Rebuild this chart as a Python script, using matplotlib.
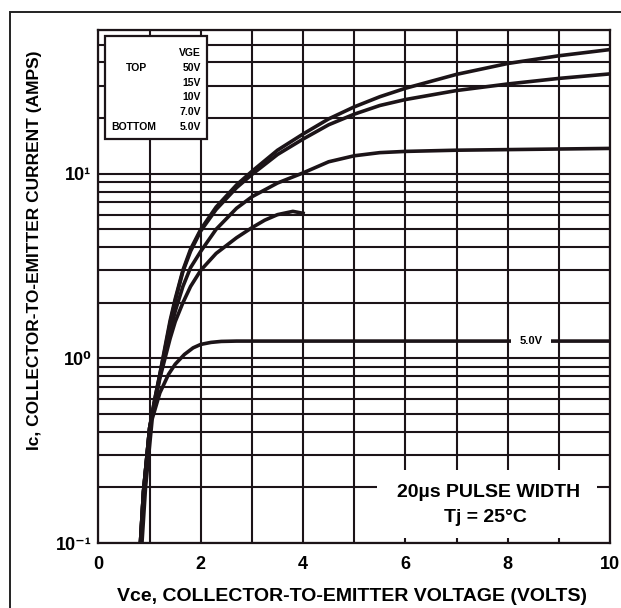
import matplotlib
matplotlib.use("Agg")
import matplotlib.pyplot as plt
from matplotlib.patches import Rectangle
from matplotlib.ticker import LogLocator, MultipleLocator, NullFormatter

plt.rcParams['font.family'] = ['Liberation Sans', 'DejaVu Sans']
plt.rcParams['font.weight'] = 'bold'

# values (Vce in volts, Ic in amps)
vce = [0.82, 0.88, 1.0, 1.1, 1.2, 1.3, 1.4, 1.5, 1.65, 1.8, 2.0, 2.3, 2.7, 3.0, 3.5,
       4.0, 4.5, 5, 5.5, 6, 7, 8, 9, 10]
ic_50v = [0.1, 0.19, 0.42, 0.6, 0.82, 1.15, 1.6, 2.1, 3.0, 3.9, 5.0, 6.6, 8.7, 10.3, 13.4,
          16.4, 19.8, 23, 26.1, 29, 34.5, 39.5, 43.5, 47]
ic_15v = [0.1, 0.19, 0.42, 0.6, 0.82, 1.12, 1.55, 2.05, 2.95, 3.8, 4.9, 6.4, 8.4, 9.9, 12.7,
          15.4, 18.4, 21, 23.4, 25.2, 28.2, 30.6, 32.8, 34.7]
ic_10v = [0.1, 0.19, 0.42, 0.58, 0.8, 1.05, 1.4, 1.8, 2.45, 3.1, 3.8, 5.0, 6.5, 7.5, 8.9,
          10.1, 11.6, 12.5, 13.0, 13.2, 13.4, 13.5, 13.6, 13.7]
vce_7v = [0.82, 0.88, 1.0, 1.1, 1.2, 1.3, 1.4, 1.5, 1.65, 1.8, 2.0, 2.3, 2.7, 3.0, 3.25,
          3.5, 3.8, 4.0]
ic_7v = [0.1, 0.19, 0.42, 0.57, 0.78, 1.0, 1.28, 1.58, 2.0, 2.45, 3.0, 3.7, 4.5, 5.1, 5.6,
         6.0, 6.25, 6.1]
vce_5v = [0.85, 0.92, 1.05, 1.2, 1.37, 1.5, 1.68, 1.85, 2.0, 2.2, 2.4, 2.7, 3, 5, 10]
ic_5v = [0.1, 0.2, 0.47, 0.65, 0.82, 0.93, 1.05, 1.14, 1.19, 1.22, 1.235, 1.24, 1.24, 1.24, 1.24]

legend_rows = ["VGE", "50V", "15V", "10V", "7.0V", "5.0V"]
x_ticks = [0, 2, 4, 6, 8, 10]
y_ticks = [0.1, 1, 10]
y_ticklabels = ["10\u207b\u00b9", "10\u2070", "10\u00b9"]

fig = plt.figure(figsize=(6.21, 6.08), dpi=100)
ax = fig.add_axes([0.1586, 0.1069, 0.8237, 0.8438])

# page frame from the scan
fig.patches.append(Rectangle((0.016, -0.1), 1.2, 1.08, transform=fig.transFigure,
                             fill=False, edgecolor='#222222', lw=1.4))

ink = '#1c1418'
for xs, ys in [(vce, ic_50v), (vce, ic_15v), (vce, ic_10v), (vce_7v, ic_7v), (vce_5v, ic_5v)]:
    ax.plot(xs, ys, color=ink, lw=2.6, zorder=3, solid_joinstyle='round')

ax.set_yscale('log')
ax.set_xlim(0, 10)
ax.set_ylim(0.1, 60)
ax.set_xticks(x_ticks)
ax.set_xticklabels([str(t) for t in x_ticks])
ax.xaxis.set_minor_locator(MultipleLocator(1))
ax.set_yticks(y_ticks)
ax.set_yticklabels(y_ticklabels)
ax.yaxis.set_minor_locator(LogLocator(base=10, subs=range(2, 10)))
ax.yaxis.set_minor_formatter(NullFormatter())
ax.grid(True, which='both', color=ink, lw=1.5)
ax.set_axisbelow(True)
ax.tick_params(which='both', length=0)
ax.tick_params(axis='x', pad=9, labelsize=13)
ax.tick_params(axis='y', pad=5, labelsize=13)
for sp in ax.spines.values():
    sp.set_linewidth(1.6)
    sp.set_color(ink)

ax.set_xlabel("Vce, COLLECTOR-TO-EMITTER VOLTAGE (VOLTS)", fontsize=14, fontweight='bold')
ax.set_ylabel("Ic, COLLECTOR-TO-EMITTER CURRENT (AMPS)", fontsize=12.5, fontweight='bold')
ax.xaxis.set_label_coords(0.495, -0.088)
ax.yaxis.set_label_coords(-0.11, 0.571)

# legend box
ax.add_patch(Rectangle((0.0127, 0.788), 0.199, 0.2, transform=ax.transAxes,
                       facecolor='white', edgecolor=ink, lw=1.6, zorder=5))
row_y = 0.955
for i, row in enumerate(legend_rows):
    ax.text(0.2, row_y - i * 0.0287, row, transform=ax.transAxes, ha='right',
            va='center', fontsize=7.5, zorder=6)
ax.text(0.075, row_y - 0.0287, "TOP", transform=ax.transAxes, ha='center',
        va='center', fontsize=7.5, zorder=6)
ax.text(0.024, row_y - 5 * 0.0287, "BOTTOM", transform=ax.transAxes, ha='left',
        va='center', fontsize=7.5, zorder=6)

# pulse note box
ax.add_patch(Rectangle((0.544, 0.01), 0.43, 0.132, transform=ax.transAxes,
                       facecolor='white', edgecolor='none', zorder=5))
ax.text(0.762, 0.0975, "20\u00b5s PULSE WIDTH", transform=ax.transAxes, ha='center',
        va='center', fontsize=14, zorder=6)
ax.text(0.757, 0.049, "Tj = 25\u00b0C", transform=ax.transAxes, ha='center',
        va='center', fontsize=14, zorder=6)

# curve label on the 5.0V line
ax.text(8.45, 1.24, "5.0V", ha='center', va='center', fontsize=8, zorder=6,
        bbox=dict(facecolor='white', edgecolor='none', pad=6))

fig.savefig("out.png", dpi=100)
